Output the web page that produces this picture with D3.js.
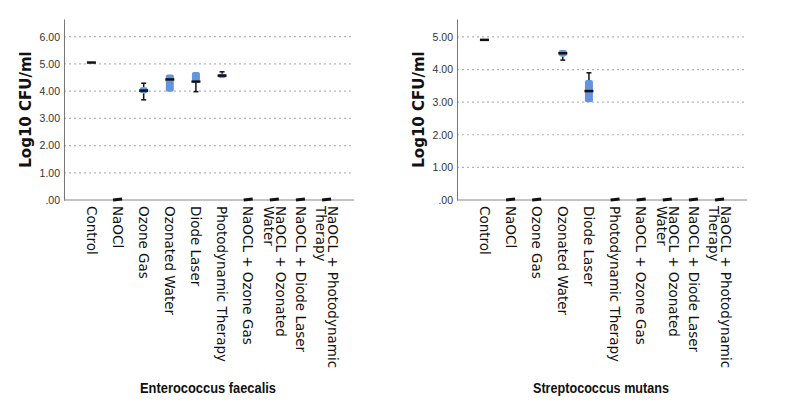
<!DOCTYPE html>
<html lang="en">
<head>
<meta charset="UTF-8">
<title>Log10 CFU/ml</title>
<script src="https://cdn.jsdelivr.net/npm/d3@7"></script>
<style>
  body { margin: 0; background: #fff; }
  svg { display: block; font-family: "DejaVu Sans", sans-serif; }
</style>
</head>
<body>
<svg id="mainsvg" width="787" height="413"></svg>
<script>
// categories, one label line per array entry
const categories = [
  ["Control"], ["NaOCl"], ["Ozone Gas"], ["Ozonated Water"], ["Diode Laser"],
  ["Photodynamic Therapy"], ["NaOCL + Ozone Gas"], ["NaOCL + Ozonated", "Water"],
  ["NaOCL + Diode Laser"], ["NaOCL + Photodynamic", "Therapy"]
];
// five-number summaries [min, q1, median, q3, max] in Log10 CFU/ml
const faecalis = [
  [5.05, 5.05, 5.05, 5.05, 5.05],
  [0, 0, 0, 0, 0],
  [3.68, 3.92, 4.02, 4.14, 4.29],
  [3.98, 3.98, 4.43, 4.61, 4.61],
  [3.98, 4.35, 4.35, 4.70, 4.70],
  [4.48, 4.48, 4.57, 4.64, 4.71],
  [0, 0, 0, 0, 0],
  [0, 0, 0, 0, 0],
  [0, 0, 0, 0, 0],
  [0, 0, 0, 0, 0]
];
const mutans = [
  [4.91, 4.91, 4.91, 4.91, 4.91],
  [0, 0, 0, 0, 0],
  [0, 0, 0, 0, 0],
  [4.29, 4.40, 4.50, 4.60, 4.60],
  [3.00, 3.00, 3.34, 3.68, 3.90],
  [0, 0, 0, 0, 0],
  [0, 0, 0, 0, 0],
  [0, 0, 0, 0, 0],
  [0, 0, 0, 0, 0],
  [0, 0, 0, 0, 0]
];
const faecalisTicks = [0, 1, 2, 3, 4, 5, 6];
const mutansTicks = [0, 1, 2, 3, 4, 5];

const svg = d3.select("svg");
const boxColor = "#6395de";
const fmt = v => d3.format(".2f")(v).replace(/^0\./, ".");
const keys = categories.map(c => c.join(" "));

function drawPanel(opts) {
    const {left, right, top, bottom, yMax, ticks, data, title} = opts;
    const g = svg.append("g");
    const x = d3.scalePoint().domain(keys).range([left, right]).padding(1.05);
    const y = d3.scaleLinear().domain([0, yMax]).range([bottom, top]);

    // dotted grid
    g.selectAll(".grid").data(ticks.filter(t => t > 0)).join("line")
        .attr("x1", left).attr("x2", right)
        .attr("y1", d => y(d)).attr("y2", d => y(d))
        .attr("stroke", "#b5b5b5").attr("stroke-width", 1.2)
        .attr("stroke-dasharray", "2,3");

    // axes
    const yAxis = d3.axisLeft(y).tickValues(ticks).tickFormat(fmt).tickSize(0).tickPadding(4);
    const ya = g.append("g").attr("transform", `translate(${left},0)`).call(yAxis);
    ya.select(".domain").attr("stroke", "#777");
    ya.selectAll("text").attr("font-size", 10.5).attr("fill", "#333");
    g.append("line").attr("x1", left).attr("x2", right)
        .attr("y1", bottom).attr("y2", bottom).attr("stroke", "#888");

    // category labels, rotated to read top-down
    const lab = g.selectAll(".cat").data(categories).join("text")
        .attr("font-size", 13.5).attr("fill", "#111")
        .attr("transform", (d, i) => `translate(${x(keys[i])},${bottom + 6}) rotate(90)`);
    lab.each(function(d) {
        const t = d3.select(this);
        const n = d.length;
        d.forEach((line, j) => {
            t.append("tspan").attr("x", 0)
                .attr("y", (j - (n - 1) / 2) * 12)
                .attr("dy", "0.35em").text(line);
        });
    });

    // y title
    g.append("text")
        .attr("transform", `translate(${left - 38},${(top + bottom) / 2}) rotate(-90)`)
        .attr("text-anchor", "middle").attr("dy", "0.35em")
        .attr("font-size", 15).attr("font-weight", "bold").attr("fill", "#111")
        .text("Log10 CFU/ml");

    // panel title
    g.append("text").attr("x", (left + right) / 2 - 1).attr("y", 393)
        .attr("text-anchor", "middle")
        .attr("font-family", "Liberation Sans, sans-serif")
        .attr("font-size", 15).attr("font-weight", "bold").attr("fill", "#111")
        .attr("textLength", 136).attr("lengthAdjust", "spacingAndGlyphs")
        .text(title);

    // boxes
    const bw = 8;
    const boxes = g.selectAll(".box").data(data).join("g")
        .attr("transform", (d, i) => `translate(${x(keys[i])},0)`);
    // whiskers
    boxes.filter(d => d[4] > d[3]).append("line")
        .attr("x1", 0).attr("x2", 0).attr("y1", d => y(d[4])).attr("y2", d => y(d[3]))
        .attr("stroke", "#111").attr("stroke-width", 1.5);
    boxes.filter(d => d[4] > d[3]).append("line")
        .attr("x1", -2.5).attr("x2", 2.5).attr("y1", d => y(d[4])).attr("y2", d => y(d[4]))
        .attr("stroke", "#111").attr("stroke-width", 1.5);
    boxes.filter(d => d[0] < d[1]).append("line")
        .attr("x1", 0).attr("x2", 0).attr("y1", d => y(d[1])).attr("y2", d => y(d[0]))
        .attr("stroke", "#111").attr("stroke-width", 1.5);
    boxes.filter(d => d[0] < d[1]).append("line")
        .attr("x1", -2.5).attr("x2", 2.5).attr("y1", d => y(d[0])).attr("y2", d => y(d[0]))
        .attr("stroke", "#111").attr("stroke-width", 1.5);
    boxes.filter(d => d[3] > d[1]).append("rect")
        .attr("x", -bw / 2).attr("width", bw)
        .attr("y", d => y(d[3])).attr("height", d => y(d[1]) - y(d[3]))
        .attr("rx", 2).attr("fill", boxColor);
    boxes.append("line")
        .attr("x1", -bw / 2 - 0.5).attr("x2", bw / 2 + 0.5)
        .attr("y1", d => y(d[2])).attr("y2", d => y(d[2]) - (d[2] === 0 ? 1 : 0))
        .attr("stroke", "#111").attr("stroke-width", d => d[2] === 0 ? 3 : 2.5);
}

drawPanel({left: 64, right: 354, top: 19, bottom: 200, yMax: 6.65,
    ticks: faecalisTicks, data: faecalis, title: "Enterococcus faecalis"});
drawPanel({left: 457, right: 747, top: 19, bottom: 200, yMax: 5.55,
    ticks: mutansTicks, data: mutans, title: "Streptococcus mutans"});
</script>
</body>
</html>
